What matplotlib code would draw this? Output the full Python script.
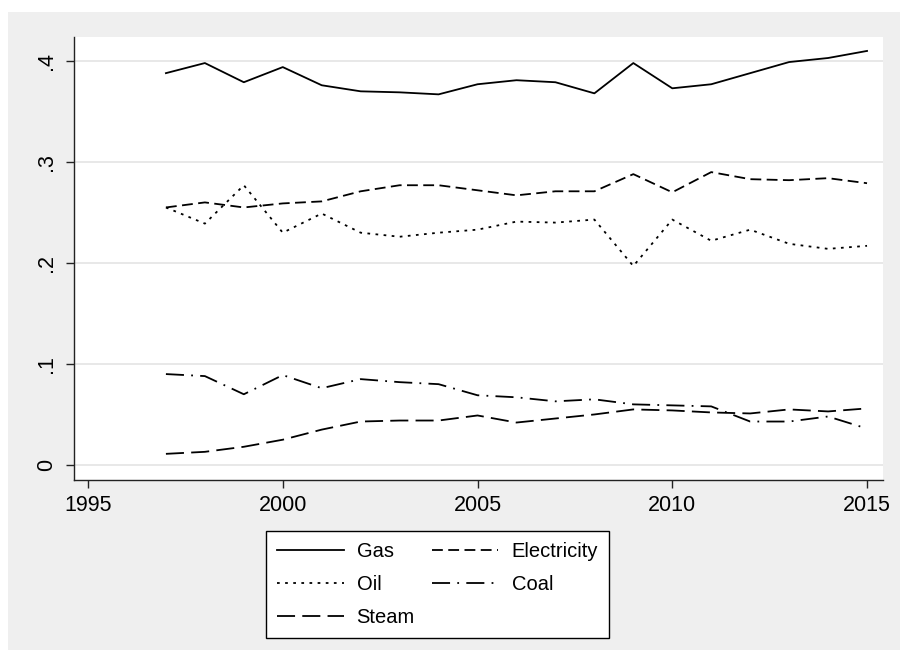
import matplotlib
matplotlib.use("Agg")
import matplotlib.pyplot as plt
from matplotlib.patches import Rectangle

plt.rcParams['font.family'] = ['Liberation Sans', 'DejaVu Sans']

years = list(range(1997, 2016))
gas = [0.388, 0.398, 0.379, 0.394, 0.376, 0.370, 0.369, 0.367, 0.377, 0.381,
       0.379, 0.368, 0.398, 0.373, 0.377, 0.388, 0.399, 0.403, 0.410]
electricity = [0.255, 0.260, 0.255, 0.259, 0.261, 0.271, 0.277, 0.277, 0.272, 0.267,
               0.271, 0.271, 0.288, 0.270, 0.290, 0.283, 0.282, 0.284, 0.279]
oil = [0.255, 0.239, 0.277, 0.230, 0.249, 0.230, 0.226, 0.230, 0.233, 0.241,
       0.240, 0.243, 0.197, 0.243, 0.222, 0.233, 0.219, 0.214, 0.217]
coal = [0.090, 0.088, 0.070, 0.089, 0.076, 0.085, 0.082, 0.080, 0.069, 0.067,
        0.063, 0.065, 0.060, 0.059, 0.058, 0.043, 0.043, 0.048, 0.036]
steam = [0.011, 0.013, 0.018, 0.025, 0.035, 0.043, 0.044, 0.044, 0.049, 0.042,
         0.046, 0.050, 0.055, 0.054, 0.052, 0.051, 0.055, 0.053, 0.056]

xticks = [1995, 2000, 2005, 2010, 2015]
yticks = [0, 0.1, 0.2, 0.3, 0.4]
ytick_labels = ['0', '.1', '.2', '.3', '.4']

W, H = 900, 650
fig = plt.figure(figsize=(9, 6.5), dpi=100)
fig.patch.set_facecolor('white')
fig.patches.append(Rectangle((8 / W, 0), 1 - 8 / W, 1 - 12 / H, transform=fig.transFigure,
                             facecolor='#efefef', edgecolor='none', zorder=-10))

ax = fig.add_axes([74 / W, 1 - 480 / H, (883 - 74) / W, (480 - 37) / H])
ax.set_facecolor('white')

lw = 1.3
l_gas, = ax.plot(years, gas, color='black', lw=lw, linestyle='-', label='Gas')
l_ele, = ax.plot(years, electricity, color='black', lw=lw, linestyle=(0, (6, 3)), label='Electricity')
l_oil, = ax.plot(years, oil, color='black', lw=lw, linestyle=(0, (1.5, 3)), label='Oil')
l_coal, = ax.plot(years, coal, color='black', lw=lw, linestyle=(0, (10, 4, 1, 4)), label='Coal')
l_steam, = ax.plot(years, steam, color='black', lw=lw, linestyle=(0, (10, 4)), label='Steam')

ax.set_xlim(1994.64, 2015.41)
ax.set_ylim(-0.0149, 0.4238)
ax.set_xticks(xticks)
ax.set_xticklabels([str(x) for x in xticks])
ax.set_yticks(yticks)
ax.set_yticklabels(ytick_labels, rotation=90, va='center')

ax.grid(axis='y', color='#e6e6e6', lw=1.3)
ax.set_axisbelow(True)
for s in ['top', 'right']:
    ax.spines[s].set_visible(False)
for s in ['left', 'bottom']:
    ax.spines[s].set_color('#222222')
    ax.spines[s].set_linewidth(1.0)
ax.tick_params(axis='both', direction='out', length=6, width=1.0, color='#222222',
               labelsize=15.5, labelcolor='black')
ax.tick_params(axis='x', pad=5)
ax.tick_params(axis='y', pad=6)

leg = fig.legend([l_gas, l_oil, l_steam, l_ele, l_coal],
                 ['Gas', 'Oil', 'Steam', 'Electricity', 'Coal'],
                 ncol=2, loc='upper left', bbox_to_anchor=(266 / W, 1 - 531 / H),
                 bbox_transform=fig.transFigure, fontsize=14.5, frameon=True,
                 fancybox=False, edgecolor='black', framealpha=1,
                 handlelength=3.3, handletextpad=0.65, columnspacing=0.85,
                 labelspacing=0.7, borderpad=0.55, borderaxespad=0)
leg.get_frame().set_linewidth(1.0)

fig.savefig('out.png', dpi=100)
